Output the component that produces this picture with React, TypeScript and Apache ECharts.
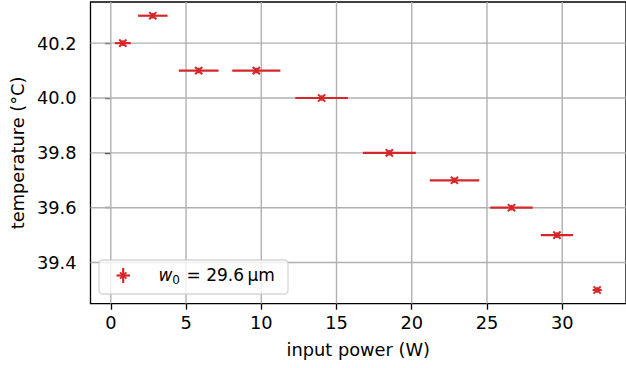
import React, { useEffect, useRef } from "react";
import * as echarts from "echarts";

// ---- data ----
const inputPower = [0.8, 2.79, 5.84, 9.67, 14.01, 18.51, 22.84, 26.63, 29.65, 32.32];
const powerErr = [0.53, 0.98, 1.32, 1.6, 1.75, 1.76, 1.64, 1.41, 1.07, 0.3];
const temperature = [40.2, 40.3, 40.1, 40.1, 40.0, 39.8, 39.7, 39.6, 39.5, 39.3];
const temperatureErr = [0.01, 0.01, 0.01, 0.01, 0.01, 0.01, 0.01, 0.01, 0.01, 0.01];
const xTicks = [0, 5, 10, 15, 20, 25, 30];
const yTicks = [39.4, 39.6, 39.8, 40.0, 40.2];
const seriesLabel = { w: "w", sub: "0", rest: "= 29.6\u2009\u00b5m" };

const RED = "#d62728";
const FONT = "DejaVu Sans";
const FS = 17.8;

export default function App() {
  const ref = useRef<HTMLDivElement>(null);

  useEffect(() => {
    const chart = echarts.init(ref.current!, null, { renderer: "svg" });
    const data = inputPower.map((x, i) => [x, temperature[i], powerErr[i], temperatureErr[i]]);
    const gridData = [
      ...xTicks.map((v) => [v, NaN, 0]),
      ...yTicks.map((v) => [NaN, v, 1]),
    ];

    chart.setOption({
      animation: false,
      grid: {
        left: 89.7,
        top: 2,
        width: 545,
        height: 301.7,
        show: true,
        borderColor: "#000",
        borderWidth: 1.3,
        backgroundColor: "transparent",
      },
      xAxis: {
        type: "value",
        min: -1.35,
        max: 34.24,
        name: "input power (W)",
        nameLocation: "middle",
        nameGap: 37,
        nameTextStyle: { fontFamily: FONT, fontSize: FS, color: "#000" },
        axisLine: { show: false },
        axisTick: {
          show: true,
          inside: false,
          length: 6,
          customValues: xTicks,
          lineStyle: { color: "#000", width: 1.3 },
        },
        axisLabel: {
          customValues: xTicks,
          margin: 10,
          fontFamily: FONT,
          fontSize: FS,
          color: "#000",
          formatter: (v: number) => String(v),
        },
        splitLine: { show: false },
      },
      yAxis: {
        type: "value",
        min: 39.25,
        max: 40.35,
        name: "temperature (\u00b0C)",
        nameLocation: "middle",
        nameGap: 58,
        nameTextStyle: { fontFamily: FONT, fontSize: FS, color: "#000" },
        axisLine: { show: false },
        axisTick: {
          show: true,
          inside: false,
          length: 6,
          customValues: yTicks,
          lineStyle: { color: "#000", width: 1.3 },
        },
        axisLabel: {
          customValues: yTicks,
          margin: 14,
          fontFamily: FONT,
          fontSize: FS,
          color: "#000",
          formatter: (v: number) => v.toFixed(1),
        },
        splitLine: { show: false },
      },
      series: [
        {
          // grid lines, drawn through the axes' own scales
          type: "custom",
          z: 1,
          silent: true,
          clip: true,
          data: gridData,
          renderItem: (params: any, api: any) => {
            const cs = params.coordSys;
            const kind = api.value(2);
            const style = { stroke: "#b0b0b0", lineWidth: 1.4 };
            if (kind === 0) {
              const p = api.coord([api.value(0), 39.8]);
              return { type: "line", shape: { x1: p[0], y1: cs.y, x2: p[0], y2: cs.y + cs.height }, style };
            }
            const p = api.coord([10, api.value(1)]);
            return { type: "line", shape: { x1: cs.x, y1: p[1], x2: cs.x + cs.width, y2: p[1] }, style };
          },
        },
        {
          type: "custom",
          z: 10,
          clip: false,
          encode: { x: 0, y: 1 },
          data,
          renderItem: (params: any, api: any) => {
            const x = api.value(0);
            const y = api.value(1);
            const xe = api.value(2);
            const ye = api.value(3);
            const c = api.coord([x, y]);
            const l = api.coord([x - xe, y]);
            const r = api.coord([x + xe, y]);
            const t = api.coord([x, y + ye]);
            const b = api.coord([x, y - ye]);
            const m = 3.6;
            const barStyle = { stroke: RED, lineWidth: 2.2 };
            const mStyle = { stroke: RED, lineWidth: 2 };
            return {
              type: "group",
              children: [
                { type: "line", shape: { x1: l[0], y1: l[1], x2: r[0], y2: r[1] }, style: barStyle },
                { type: "line", shape: { x1: t[0], y1: t[1], x2: b[0], y2: b[1] }, style: barStyle },
                { type: "line", shape: { x1: c[0] - m, y1: c[1] - m, x2: c[0] + m, y2: c[1] + m }, style: mStyle },
                { type: "line", shape: { x1: c[0] - m, y1: c[1] + m, x2: c[0] + m, y2: c[1] - m }, style: mStyle },
              ],
            };
          },
        },
      ],
      graphic: [
        {
          type: "rect",
          z: 20,
          shape: { x: 99, y: 260, width: 189, height: 34, r: 3.5 },
          style: { fill: "rgba(255,255,255,0.8)", stroke: "rgba(204,204,204,0.8)", lineWidth: 1.3 },
        },
        { type: "line", z: 21, shape: { x1: 116.5, y1: 275.5, x2: 130, y2: 275.5 }, style: { stroke: RED, lineWidth: 2.2 } },
        { type: "line", z: 21, shape: { x1: 123.2, y1: 268, x2: 123.2, y2: 283 }, style: { stroke: RED, lineWidth: 2.2 } },
        { type: "line", z: 21, shape: { x1: 120, y1: 272.3, x2: 126.4, y2: 278.7 }, style: { stroke: RED, lineWidth: 1.8 } },
        { type: "line", z: 21, shape: { x1: 120, y1: 278.7, x2: 126.4, y2: 272.3 }, style: { stroke: RED, lineWidth: 1.8 } },
        {
          type: "text",
          z: 21,
          x: 158.5,
          y: 275,
          style: {
            text: seriesLabel.w,
            fontFamily: FONT,
            fontStyle: "italic",
            fontSize: 17,
            fill: "#000",
            verticalAlign: "middle",
          },
        },
        {
          type: "text",
          z: 21,
          x: 172.3,
          y: 280,
          style: {
            text: seriesLabel.sub,
            fontFamily: FONT,
            fontSize: 12,
            fill: "#000",
            verticalAlign: "middle",
          },
        },
        {
          type: "text",
          z: 21,
          x: 186.5,
          y: 275,
          style: {
            text: seriesLabel.rest,
            fontFamily: FONT,
            fontSize: 17,
            fill: "#000",
            verticalAlign: "middle",
          },
        },
      ],
    });

    return () => chart.dispose();
  }, []);

  return (
    <div
      ref={ref}
      style={{ position: "absolute", left: 0, top: 0, width: 626, height: 368, overflow: "hidden" }}
    />
  );
}
